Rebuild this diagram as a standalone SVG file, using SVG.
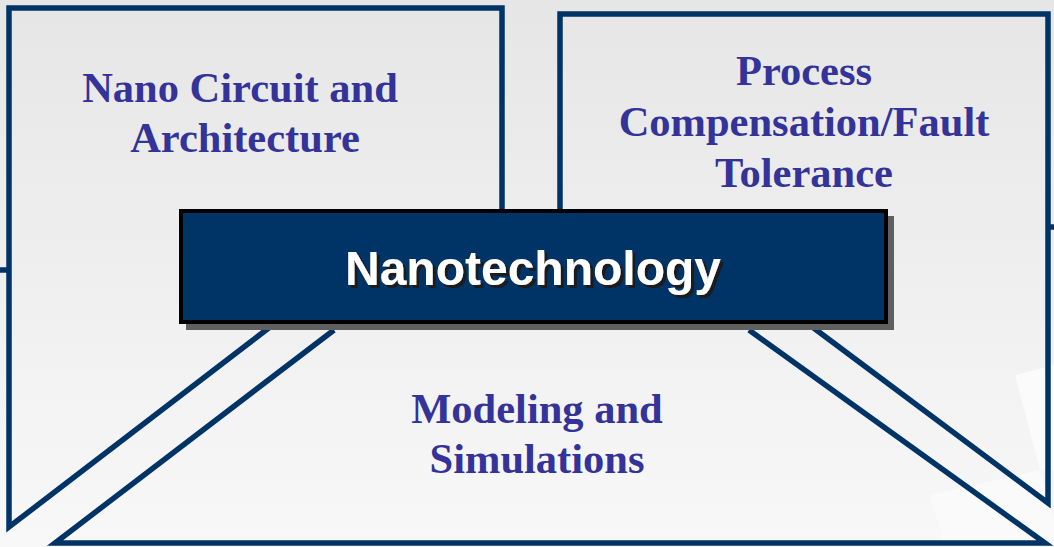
<svg xmlns="http://www.w3.org/2000/svg" width="1054" height="547" viewBox="0 0 1054 547">
<defs>
<linearGradient id="bg" x1="0" y1="0" x2="0" y2="1">
<stop offset="0" stop-color="#e6e6e6"/>
<stop offset="1" stop-color="#f8f8f8"/>
</linearGradient>
<filter id="tshadow" x="-5%" y="-20%" width="110%" height="140%">
<feOffset in="SourceAlpha" dx="3" dy="3" result="o"/>
<feFlood flood-color="#1a1a1a"/>
<feComposite in2="o" operator="in" result="s"/>
<feMerge><feMergeNode in="s"/><feMergeNode in="SourceGraphic"/></feMerge>
</filter>
<style>
.ln{fill:none;stroke:#003366;stroke-width:5.5;stroke-linejoin:miter;stroke-linecap:butt}
.lbl{font-family:"Liberation Serif","Times New Roman",serif;font-weight:bold;font-size:42.5px;fill:#333399;text-anchor:middle}
.title{font-family:"Liberation Sans",Arial,sans-serif;font-weight:bold;font-size:48px;text-anchor:middle;fill:#ffffff}
</style>
</defs>
<rect width="1054" height="547" fill="url(#bg)"/>
<polygon points="1015,375 1054,365 1054,470 1040,470" fill="#fbfbfb"/>
<polygon points="930,495 1040,470 1054,520 1054,547 945,547" fill="#fafafa"/>
<g id="connectors">
<polyline class="ln" points="270,327 9,527 9,8 502,8 502,210"/>
<polyline class="ln" points="560,210 560,14 1048,14 1048,503 811,326"/>
<polyline class="ln" points="334,330 55,543 1045,543 749,330"/>
<line class="ln" x1="0" y1="270" x2="9" y2="270"/>
<line class="ln" x1="1048" y1="227" x2="1054" y2="227"/>
</g>
<g id="node-nano-circuit">
<text class="lbl" x="240" y="102">Nano Circuit and</text>
<text class="lbl" x="245" y="152">Architecture</text>
</g>
<g id="node-process">
<text class="lbl" x="804" y="85">Process</text>
<text class="lbl" x="804" y="136">Compensation/Fault</text>
<text class="lbl" x="804" y="187">Tolerance</text>
</g>
<g id="node-modeling">
<text class="lbl" x="537" y="423">Modeling and</text>
<text class="lbl" x="537" y="473">Simulations</text>
</g>
<g id="node-nanotechnology">
<rect x="186" y="216" width="708" height="114" fill="#5f5f5f"/>
<rect x="181" y="211" width="705" height="111" fill="#003366" stroke="#000" stroke-width="4"/>
<text class="title" x="533" y="285" filter="url(#tshadow)">Nanotechnology</text>
</g>
</svg>
